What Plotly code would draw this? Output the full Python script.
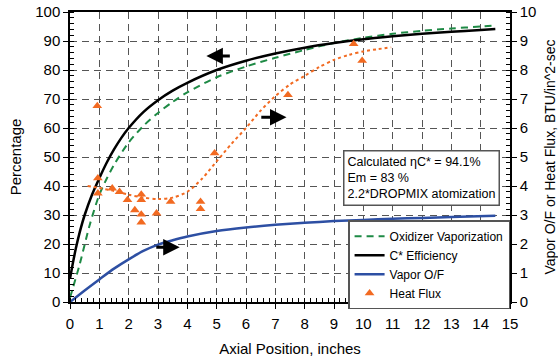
import plotly.graph_objects as go

# Axial positions (inches) and percentage curves (left axis)
ox_x = [0, 0.33, 0.67, 1, 1.25, 1.5, 2, 2.5, 3, 3.5, 4, 5, 6, 7, 8, 9, 10, 11, 12, 13, 14, 14.5]
ox_vap = [1.5, 13, 26.5, 37, 42.5, 47.3, 55, 60.7, 65.2, 69, 72.3, 77.5, 81.2, 84.2, 86.9, 89.3, 91.1, 92.5, 93.5, 94.3, 95, 95.4]

cs_x = [0, 0.1, 0.2, 0.33, 0.5, 0.75, 1, 1.25, 1.5, 1.75, 2, 2.5, 3, 3.5, 4, 5, 6, 7, 8, 9, 10, 11, 12, 13, 14, 14.5]
cstar_eff = [8, 13.5, 18.5, 24, 30, 37, 42.7, 48, 52.6, 56.6, 60, 65.5, 69.6, 72.9, 75.6, 80, 83.2,
             85.7, 87.7, 89.3, 90.6, 91.6, 92.5, 93.2, 93.8, 94.1]

# Vapor O/F (right axis)
of_x = [0, 0.5, 1, 1.5, 2, 2.5, 3, 3.5, 4, 5, 6, 7, 8, 9, 10, 11, 12, 13, 14.5]
vapor_of = [0, 0.4, 0.78, 1.15, 1.47, 1.76, 1.98, 2.13, 2.26, 2.45, 2.57, 2.66, 2.73, 2.79, 2.83, 2.87, 2.9, 2.93, 2.97]

# Measured heat flux, BTU/in^2-sec (right axis)
hf_x = [0.93, 0.95, 0.95, 1.44, 1.69, 1.96, 2.21, 2.43, 2.43, 2.43, 2.43, 2.95, 3.43,
        4.45, 4.45, 4.93, 7.43, 9.67, 9.96]
heat_flux = [6.76, 4.27, 3.75, 3.92, 3.80, 3.52, 3.17, 3.71, 3.52, 3.02, 2.75, 3.06, 3.46,
             3.46, 3.21, 5.13, 7.14, 8.90, 8.32]

# Trend line through heat flux
fit_x = [0.6, 1, 1.5, 2, 2.5, 3, 3.5, 4, 4.5, 5, 5.5, 6, 6.5, 7, 7.5, 8, 8.5, 9, 9.5, 10, 10.5, 10.95]
hf_fit = [4.0, 3.93, 3.83, 3.7, 3.6, 3.55, 3.6, 3.8, 4.25, 4.85, 5.45, 6.0, 6.6, 7.1, 7.5, 7.8,
          8.1, 8.35, 8.52, 8.64, 8.72, 8.78]

x_ticks = list(range(0, 16))
y_ticks = list(range(0, 101, 10))
y2_ticks = list(range(0, 11))

FONT = "Liberation Sans, Arial, sans-serif"
ORANGE = "#F26A21"
GREEN = "#1E8A45"
BLUE = "#2D4FA3"

fig = go.Figure()
fig.add_trace(go.Scatter(x=ox_x, y=ox_vap, mode="lines", name="Oxidizer Vaporization",
                         line=dict(color=GREEN, width=2, dash="7px,5px", shape="spline", smoothing=0.8)))
fig.add_trace(go.Scatter(x=cs_x, y=cstar_eff, mode="lines", name="C* Efficiency",
                         line=dict(color="black", width=2.5, shape="spline", smoothing=0.8)))
fig.add_trace(go.Scatter(x=of_x, y=vapor_of, mode="lines", name="Vapor O/F", yaxis="y2",
                         line=dict(color=BLUE, width=2.5, shape="spline", smoothing=0.8)))
fig.add_trace(go.Scatter(x=hf_x, y=heat_flux, mode="markers", name="Heat Flux", yaxis="y2",
                         marker=dict(symbol="triangle-up", size=8.5, color=ORANGE)))
fig.add_trace(go.Scatter(x=fit_x, y=hf_fit, mode="lines", showlegend=False, yaxis="y2",
                         line=dict(color=ORANGE, width=2, dash="dot", shape="spline", smoothing=0.8)))

grid = dict(showgrid=True, gridcolor="#555555", gridwidth=1, griddash="7px,5px")

fig.update_layout(
    width=558, height=362,
    margin=dict(l=70, r=48, t=12, b=60, autoexpand=False),
    paper_bgcolor="white", plot_bgcolor="white",
    font=dict(family=FONT, size=15, color="black"),
    xaxis=dict(range=[0, 15], tickvals=x_ticks, ticks="outside", ticklen=5, tickcolor="black",
               ticklabelstandoff=2, automargin=False,
               showline=True, linecolor="black", linewidth=1.5, mirror=True, zeroline=False,
               minor=dict(dtick=0.2, ticks="inside", ticklen=4, tickcolor="black", showgrid=False),
               title=dict(text="Axial Position, inches", font=dict(size=15), standoff=13),
               **grid),
    yaxis=dict(range=[0, 100], tickvals=y_ticks, ticks="outside", ticklen=5, tickcolor="black",
               automargin=False,
               showline=True, linecolor="black", linewidth=1.5, zeroline=False,
               minor=dict(dtick=2, ticks="inside", ticklen=4, tickcolor="black", showgrid=False),
               title=dict(text="Percentage", font=dict(size=15), standoff=10),
               **grid),
    yaxis2=dict(range=[0, 10], tickvals=y2_ticks, ticks="outside", ticklen=5, tickcolor="black",
                overlaying="y", side="right", showgrid=False, zeroline=False, automargin=False,
                showline=True, linecolor="black", linewidth=1.5,
                minor=dict(dtick=0.2, ticks="inside", ticklen=4, tickcolor="black"),
                title=dict(text="Vapor O/F or Heat Flux, BTU/in^2-sec", font=dict(size=14), standoff=10)),
    legend=dict(x=0.632, y=0.282, xanchor="left", yanchor="top",
                bgcolor="white", bordercolor="#555555", borderwidth=1.5,
                font=dict(size=12), itemwidth=30, tracegroupgap=0),
    showlegend=True,
)

# Direction arrows pointing to each curve's axis
arrows = [(4.65, 84.8, 5.5), (7.38, 63.7, 6.47), (3.74, 18.9, 2.89)]
for hx, hy, tx in arrows:
    fig.add_annotation(x=hx, y=hy, ax=tx, ay=hy, xref="x", yref="y", axref="x", ayref="y",
                       showarrow=True, arrowhead=2, arrowsize=1.1, arrowwidth=3,
                       arrowcolor="black", text="")

fig.add_annotation(
    x=0.621, y=0.525, xref="paper", yref="paper", xanchor="left", yanchor="top",
    text="Calculated \u03b7C* = 94.1%<br>Em = 83 %<br>2.2*DROPMIX atomization",
    align="left", showarrow=False, font=dict(size=12.5, color="black"),
    bgcolor="white", bordercolor="#555555", borderwidth=1.5, borderpad=3,
)

fig.write_html("out.html")
